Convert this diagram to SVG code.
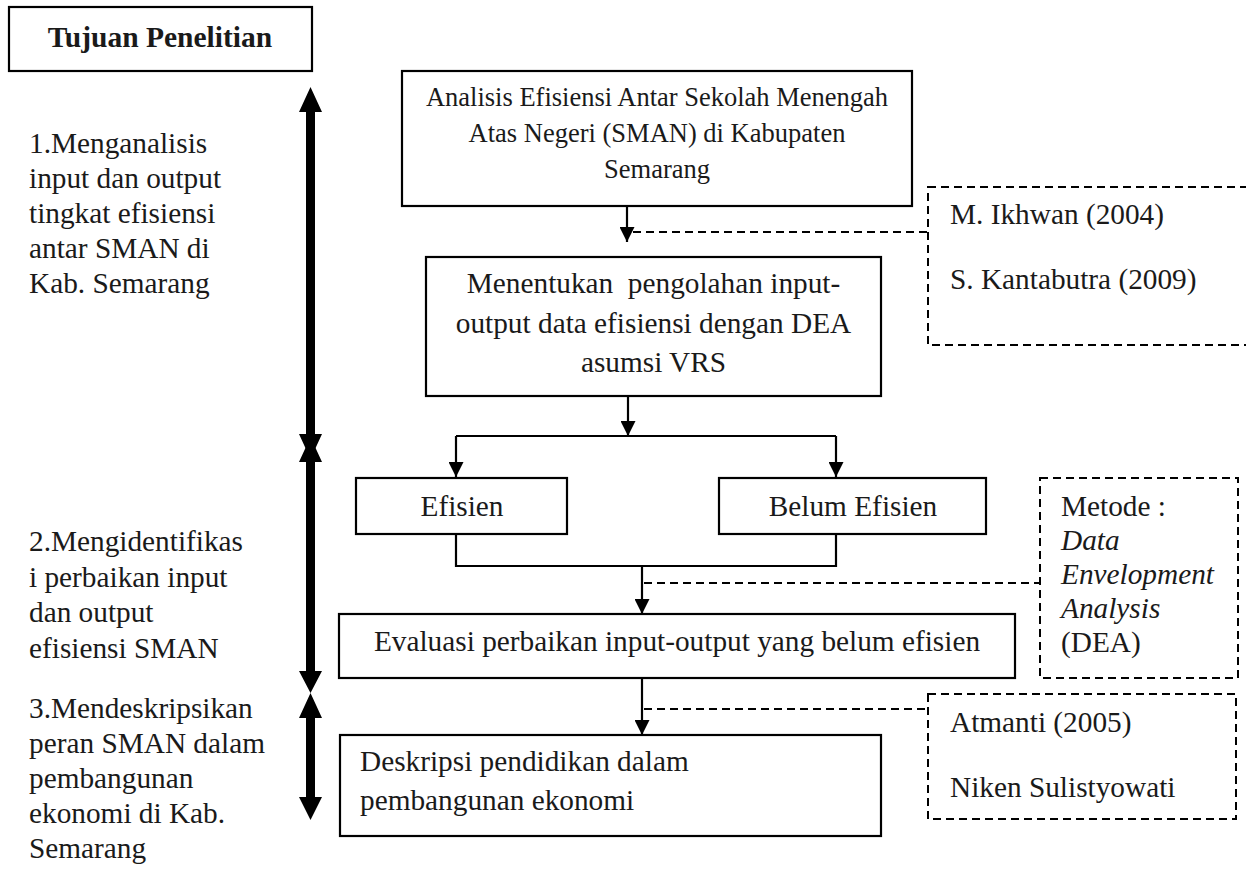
<svg xmlns="http://www.w3.org/2000/svg" width="1246" height="874" viewBox="0 0 1246 874">
<style>
text{font-family:"Liberation Serif","Times New Roman",serif;fill:#1a1a1a;font-size:29.3px}
.box{fill:#fff;stroke:#000;stroke-width:2.2}
.dbox{fill:none;stroke:#000;stroke-width:2;stroke-dasharray:8 5}
.ln{fill:none;stroke:#000;stroke-width:2.2}
.dl{fill:none;stroke:#000;stroke-width:2;stroke-dasharray:8 5}
.thick{fill:#000}
.c{text-anchor:middle}
.b1{font-size:26.5px}
</style>
<defs>
<marker id="ah" viewBox="0 0 15 15" refX="15" refY="7.5" markerWidth="15" markerHeight="15" markerUnits="userSpaceOnUse" orient="auto">
<path d="M0,0 L15,7.5 L0,15 Z" fill="#000"/>
</marker>
</defs>
<g id="connectors">
<path class="ln" d="M627,206 V242" marker-end="url(#ah)"/>
<path class="dl" d="M633,232 H928"/>
<path class="ln" d="M628,396 V436" marker-end="url(#ah)"/>
<path class="ln" d="M456,436 H836"/>
<path class="ln" d="M456,436 V477" marker-end="url(#ah)"/>
<path class="ln" d="M836,436 V477" marker-end="url(#ah)"/>
<path class="ln" d="M456,534 V566 H836 V534"/>
<path class="ln" d="M642,566 V614" marker-end="url(#ah)"/>
<path class="dl" d="M644,583 H1040"/>
<path class="ln" d="M642,678 V735" marker-end="url(#ah)"/>
<path class="dl" d="M644,709 H928"/>
<path class="thick" d="M310.5,87 L322,112 L315,112 L315,434 L322,434 L310.5,459 L299,434 L306,434 L306,112 L299,112 Z"/>
<path class="thick" d="M310.5,437 L322,462 L315,462 L315,671 L322,671 L310.5,693 L299,671 L306,671 L306,462 L299,462 Z"/>
<path class="thick" d="M310.5,693 L322,718 L315,718 L315,797 L322,797 L310.5,820 L299,797 L306,797 L306,718 L299,718 Z"/>
</g>
<g id="tujuan">
<rect class="box" x="9" y="7" width="303" height="64"/>
<text class="c" x="160" y="47" font-weight="bold" style="font-size:29.5px">Tujuan Penelitian</text>
</g>
<g id="tujuan1">
<text x="29" y="153">1.Menganalisis</text>
<text x="29" y="188">input dan output</text>
<text x="29" y="223">tingkat efisiensi</text>
<text x="29" y="258">antar SMAN di</text>
<text x="29" y="293">Kab. Semarang</text>
</g>
<g id="tujuan2">
<text x="29" y="551">2.Mengidentifikas</text>
<text x="29" y="587">i perbaikan input</text>
<text x="29" y="622">dan output</text>
<text x="29" y="658">efisiensi SMAN</text>
</g>
<g id="tujuan3">
<text x="29" y="718">3.Mendeskripsikan</text>
<text x="29" y="753">peran SMAN dalam</text>
<text x="29" y="788">pembangunan</text>
<text x="29" y="823">ekonomi di Kab.</text>
<text x="29" y="858">Semarang</text>
</g>
<g id="analisis">
<rect class="box" x="402" y="71" width="510" height="135"/>
<text class="c b1" x="657" y="106">Analisis Efisiensi Antar Sekolah Menengah</text>
<text class="c b1" x="657" y="142">Atas Negeri (SMAN) di Kabupaten</text>
<text class="c b1" x="657" y="178">Semarang</text>
</g>
<g id="referensi1">
<rect class="dbox" x="928" y="187" width="330" height="158"/>
<text x="950" y="224">M. Ikhwan (2004)</text>
<text x="950" y="289">S. Kantabutra (2009)</text>
</g>
<g id="menentukan">
<rect class="box" x="426" y="257" width="455" height="139"/>
<text class="c" x="653.5" y="293" xml:space="preserve">Menentukan  pengolahan input-</text>
<text class="c" x="653.5" y="333">output data efisiensi dengan DEA</text>
<text class="c" x="653.5" y="372">asumsi VRS</text>
</g>
<g id="efisien">
<rect class="box" x="356" y="478" width="211" height="56"/>
<text class="c" x="462" y="516">Efisien</text>
</g>
<g id="belum">
<rect class="box" x="719" y="478" width="267" height="56"/>
<text class="c" x="853" y="516">Belum Efisien</text>
</g>
<g id="metode">
<rect class="dbox" x="1040" y="478" width="198" height="200"/>
<text x="1061" y="516">Metode :</text>
<text x="1061" y="550" font-style="italic">Data</text>
<text x="1061" y="584" font-style="italic">Envelopment</text>
<text x="1061" y="618" font-style="italic">Analysis</text>
<text x="1061" y="652">(DEA)</text>
</g>
<g id="evaluasi">
<rect class="box" x="339" y="614" width="676" height="64"/>
<text class="c" x="677" y="651">Evaluasi perbaikan input-output yang belum efisien</text>
</g>
<g id="referensi2">
<rect class="dbox" x="928" y="694" width="308" height="125"/>
<text x="950" y="732">Atmanti (2005)</text>
<text x="950" y="797">Niken Sulistyowati</text>
</g>
<g id="deskripsi">
<rect class="box" x="340" y="735" width="541" height="101"/>
<text x="360" y="771">Deskripsi pendidikan dalam</text>
<text x="360" y="810">pembangunan ekonomi</text>
</g>
</svg>
